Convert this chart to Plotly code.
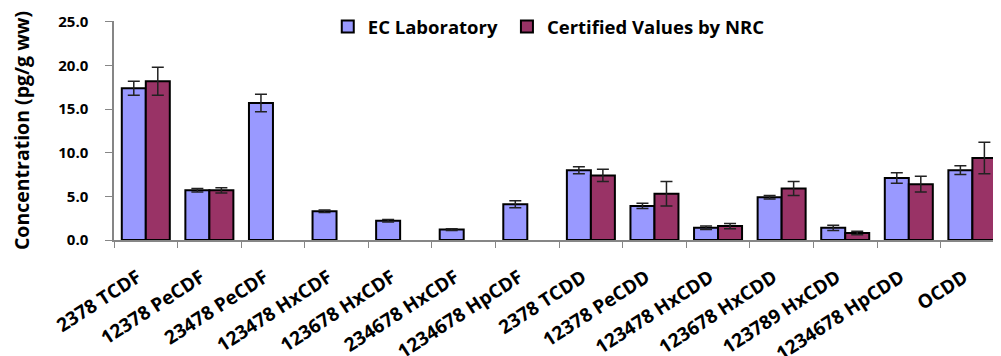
import plotly.graph_objects as go

categories = ["2378 TCDF", "12378 PeCDF", "23478 PeCDF", "123478 HxCDF", "123678 HxCDF",
              "234678 HxCDF", "1234678 HpCDF", "2378 TCDD", "12378 PeCDD", "123478 HxCDD",
              "123678 HxCDD", "123789 HxCDD", "1234678 HpCDD", "OCDD"]
ec_values = [17.4, 5.7, 15.7, 3.3, 2.2, 1.2, 4.1, 8.0, 3.9, 1.4, 4.9, 1.4, 7.1, 8.0]
ec_errors = [0.8, 0.2, 1.0, 0.15, 0.15, 0.1, 0.4, 0.4, 0.3, 0.2, 0.2, 0.3, 0.6, 0.5]
nrc_values = [18.2, 5.7, None, None, None, None, None, 7.4, 5.3, 1.6, 5.9, 0.8, 6.4, 9.4]
nrc_errors = [1.6, 0.3, None, None, None, None, None, 0.7, 1.4, 0.3, 0.8, 0.2, 0.9, 1.8]
y_ticks = [0, 5, 10, 15, 20, 25]

FONT = "Open Sans"
err_style = dict(type="data", visible=True, color="#222222", thickness=1.5, width=6)
legend_font = dict(family=FONT, size=18.5, color="#000000", weight="bold")

# the page body has an 8px margin; size the figure so the plot lands where the reference has it
fig = go.Figure()
fig.add_trace(go.Bar(
    name="EC Laboratory", x=categories, y=ec_values,
    error_y=dict(array=ec_errors, **err_style),
    marker=dict(color="#9999FF", line=dict(color="#000000", width=2)),
    legend="legend",
))
fig.add_trace(go.Bar(
    name="Certified Values by NRC", x=categories, y=nrc_values,
    error_y=dict(array=nrc_errors, **err_style),
    marker=dict(color="#993366", line=dict(color="#000000", width=2)),
    legend="legend2",
))

pad_labels = [c + "\u00a0\u00a0" for c in categories]

fig.update_layout(
    width=993, height=348,
    margin=dict(l=106, r=0, t=13, b=116),
    paper_bgcolor="white", plot_bgcolor="white",
    barmode="group", bargap=0.245, bargroupgap=0,
    font=dict(family=FONT, size=15, color="#000000"),
    showlegend=True,
    legend=dict(orientation="h", x=0.241, y=0.973, xanchor="left", yanchor="middle",
                font=legend_font, itemwidth=30, bgcolor="rgba(0,0,0,0)"),
    legend2=dict(orientation="h", x=0.443, y=0.973, xanchor="left", yanchor="middle",
                 font=legend_font, itemwidth=30, bgcolor="rgba(0,0,0,0)"),
    xaxis=dict(
        range=[-0.5, 13.45],
        automargin=False,
        tickmode="array", tickvals=categories, ticktext=pad_labels,
        showline=True, linecolor="#868686", linewidth=1.5,
        ticks="outside", ticklen=6, tickcolor="#868686", tickwidth=1,
        tickson="boundaries",
        tickangle=-33,
        ticklabelstandoff=12,
        tickfont=dict(family=FONT, size=19, color="#000000", weight="bold"),
        showgrid=False, zeroline=False,
    ),
    yaxis=dict(
        range=[0, 25.1],
        automargin=False,
        tickvals=y_ticks, tickformat=".1f",
        showline=True, linecolor="#868686", linewidth=1.5,
        ticks="outside", ticklen=7, tickcolor="#868686", tickwidth=1,
        ticklabelstandoff=14,
        tickfont=dict(family=FONT, size=15, color="#000000", weight="bold"),
        showgrid=False, zeroline=False,
        title=dict(text="Concentration (pg/g ww)", standoff=24,
                   font=dict(family=FONT, size=19.5, color="#000000", weight="bold")),
    ),
)

fig.write_html("out.html")
